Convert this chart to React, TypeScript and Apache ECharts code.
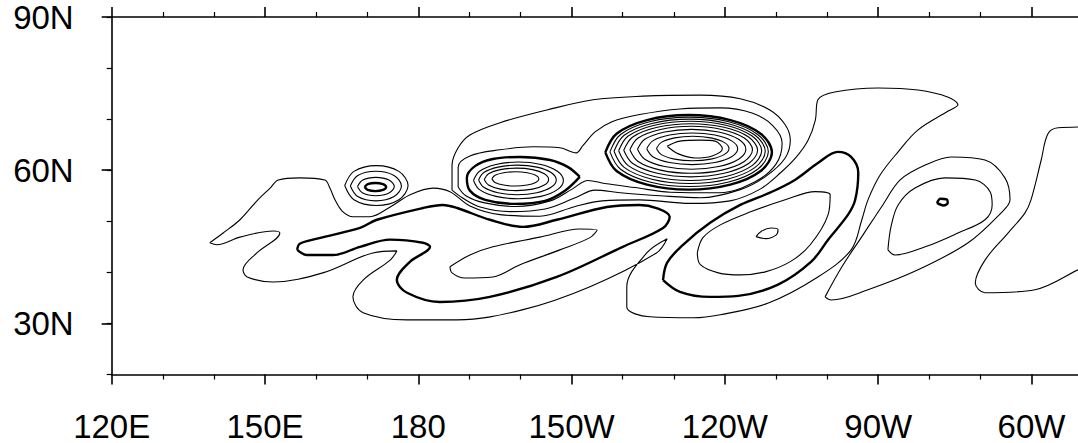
import React, { useEffect, useRef } from "react";
import * as echarts from "echarts";

type Pt = [number, number];

// Axis ranges / ticks (degrees; longitudes in 0..360 east)
const lonRange: Pt = [120, 330];
const latRange: Pt = [20, 90];
const lonTicks = [120, 150, 180, 210, 240, 270, 300];
const latTicks = [30, 60, 90];

// ---------- thin contours ----------
const outerContour: Pt[] = [
  [139.2, 45.8], [141.8, 47.7], [145.1, 50.3], [148.6, 54.2], [151.0, 56.5], [152.6, 58.1],
  [156.8, 58.5], [161.7, 58.1], [162.7, 56.5], [163.7, 54.2], [165.1, 52.0], [167.2, 50.9],
  [170.5, 50.9], [174.5, 52.8], [178.4, 55.2], [182.9, 56.5], [186.2, 55.8], [190.1, 53.0],
  [196.0, 51.3], [203.8, 51.0], [210.7, 52.9], [216.0, 54.0], [223.3, 54.2], [233.2, 53.5],
  [241.0, 54.0], [246.9, 56.3], [251.0, 59.6], [254.0, 62.6], [256.3, 65.9], [257.7, 69.8],
  [258.2, 73.8], [261.5, 75.3], [270.0, 76.1], [277.8, 75.7], [283.7, 74.3], [285.6, 72.8],
  [283.7, 71.6], [277.8, 67.9], [273.9, 63.6], [270.4, 59.1], [268.0, 54.2], [266.8, 50.3],
  [264.7, 44.4], [258.2, 39.1], [248.5, 34.0], [239.1, 31.7], [233.8, 31.1], [225.3, 31.3],
  [220.8, 33.2], [220.8, 37.2], [224.7, 43.8], [228.7, 46.6], [226.6, 43.8], [213.6, 37.2],
  [200.5, 32.7], [187.6, 30.7], [177.8, 30.7], [169.2, 32.1], [167.2, 35.2], [169.2, 38.5],
  [174.5, 42.4], [175.8, 44.2], [171.1, 43.8], [161.3, 39.9], [151.6, 38.1], [146.5, 39.1],
  [145.7, 40.5], [148.4, 43.8], [152.9, 47.7], [151.6, 48.1], [145.1, 46.9], [140.6, 45.4],
  [139.2, 45.8],
];

const envelopeOuter: Pt[] = [
  [186.6, 56.1], [186.6, 61.0], [187.8, 64.4], [190.1, 66.9], [196.0, 69.3], [205.2, 71.8],
  [214.2, 73.8], [224.0, 74.5], [235.2, 74.7], [243.0, 74.0], [248.8, 71.8], [251.8, 68.9],
  [252.8, 65.9], [251.8, 62.4], [248.0, 58.8], [243.0, 56.2], [235.2, 54.6], [227.3, 55.0],
  [219.5, 55.6], [214.6, 56.1], [210.7, 54.6], [204.8, 52.4], [198.0, 51.9], [192.1, 52.8],
  [188.6, 54.6], [186.6, 56.1],
];

const envelopeInner: Pt[] = [
  [187.8, 56.7], [187.8, 60.6], [190.1, 62.8], [196.0, 64.0], [202.5, 64.6], [207.7, 64.4],
  [210.9, 63.4], [212.2, 64.8], [214.6, 67.5], [217.9, 69.5], [223.3, 70.9], [231.2, 72.0],
  [239.1, 72.2], [245.3, 71.2], [249.4, 68.7], [251.2, 65.3], [250.0, 61.2], [246.0, 57.8],
  [239.0, 55.6], [229.3, 55.7], [222.4, 56.6], [216.5, 57.4], [213.2, 58.0], [210.1, 56.3],
  [205.8, 54.0], [199.0, 52.9], [193.0, 53.6], [189.3, 55.0], [187.8, 56.7],
];

const bigRing1: Pt[] = [[217.5, 63.6], [219.58, 67.0], [225.25, 69.49], [233.0, 70.4], [240.75, 69.49], [246.42, 67.0], [248.5, 63.6], [246.42, 60.2], [240.75, 57.71], [233.0, 56.8], [225.25, 57.71], [219.58, 60.2], [217.5, 63.6]];
const bigRing2: Pt[] = [[218.3, 63.7], [220.28, 66.85], [225.7, 69.16], [233.1, 70.0], [240.5, 69.16], [245.92, 66.85], [247.9, 63.7], [245.92, 60.55], [240.5, 58.24], [233.1, 57.4], [225.7, 58.24], [220.28, 60.55], [218.3, 63.7]];
const bigRing3: Pt[] = [[219.2, 63.8], [221.08, 66.7], [226.2, 68.82], [233.2, 69.6], [240.2, 68.82], [245.32, 66.7], [247.2, 63.8], [245.32, 60.9], [240.2, 58.78], [233.2, 58.0], [226.2, 58.78], [221.08, 60.9], [219.2, 63.8]];
const bigRing4: Pt[] = [[220.2, 63.9], [221.96, 66.5], [226.75, 68.4], [233.3, 69.1], [239.85, 68.4], [244.64, 66.5], [246.4, 63.9], [244.64, 61.3], [239.85, 59.4], [233.3, 58.7], [226.75, 59.4], [221.96, 61.3], [220.2, 63.9]];
const bigRing5: Pt[] = [[221.4, 64.0], [223.01, 66.3], [227.4, 67.98], [233.4, 68.6], [239.4, 67.98], [243.79, 66.3], [245.4, 64.0], [243.79, 61.7], [239.4, 60.02], [233.4, 59.4], [227.4, 60.02], [223.01, 61.7], [221.4, 64.0]];
const bigRing6: Pt[] = [[222.9, 64.1], [224.32, 66.05], [228.2, 67.48], [233.5, 68.0], [238.8, 67.48], [242.68, 66.05], [244.1, 64.1], [242.68, 62.15], [238.8, 60.72], [233.5, 60.2], [228.2, 60.72], [224.32, 62.15], [222.9, 64.1]];
const bigRing7: Pt[] = [[224.7, 64.2], [225.89, 65.75], [229.15, 66.88], [233.6, 67.3], [238.05, 66.88], [241.31, 65.75], [242.5, 64.2], [241.31, 62.65], [238.05, 61.52], [233.6, 61.1], [229.15, 61.52], [225.89, 62.65], [224.7, 64.2]];
const bigRing8: Pt[] = [[226.6, 64.25], [227.55, 65.45], [230.15, 66.33], [233.7, 66.65], [237.25, 66.33], [239.85, 65.45], [240.8, 64.25], [239.85, 63.05], [237.25, 62.17], [233.7, 61.85], [230.15, 62.17], [227.55, 63.05], [226.6, 64.25]];
const bigCore: Pt[] = [[228.7, 64.7], [231.2, 65.7], [235.2, 65.9], [238.1, 65.7], [239.5, 64.2], [237.5, 62.8], [234.2, 62.4], [230.9, 63.2], [228.7, 64.7]];

const midRing1: Pt[] = [[190.8, 58.0], [191.98, 59.8], [195.2, 61.12], [199.6, 61.6], [204.0, 61.12], [207.22, 59.8], [208.4, 58.0], [207.22, 56.2], [204.0, 54.88], [199.6, 54.4], [195.2, 54.88], [191.98, 56.2], [190.8, 58.0]];
const midRing2: Pt[] = [[191.8, 58.1], [192.82, 59.55], [195.6, 60.61], [199.4, 61.0], [203.2, 60.61], [205.98, 59.55], [207.0, 58.1], [205.98, 56.65], [203.2, 55.59], [199.4, 55.2], [195.6, 55.59], [192.82, 56.65], [191.8, 58.1]];
const midRing3: Pt[] = [[192.9, 58.2], [193.74, 59.3], [196.05, 60.11], [199.2, 60.4], [202.35, 60.11], [204.66, 59.3], [205.5, 58.2], [204.66, 57.1], [202.35, 56.29], [199.2, 56.0], [196.05, 56.29], [193.74, 57.1], [192.9, 58.2]];
const midCore: Pt[] = [[194.4, 58.3], [195.02, 59.0], [196.7, 59.51], [199.0, 59.7], [201.3, 59.51], [202.98, 59.0], [203.6, 58.3], [202.98, 57.6], [201.3, 57.09], [199.0, 56.9], [196.7, 57.09], [195.02, 57.6], [194.4, 58.3]];

const smallRing1: Pt[] = [[168.1, 56.8], [169.14, 58.08], [171.7, 58.6], [174.26, 58.08], [175.3, 56.8], [174.26, 55.52], [171.7, 55.0], [169.14, 55.52], [168.1, 56.8]];
const smallRing2: Pt[] = [[166.7, 56.9], [168.15, 58.96], [171.7, 59.8], [175.25, 58.96], [176.7, 56.9], [175.25, 54.84], [171.7, 54.0], [168.15, 54.84], [166.7, 56.9]];
const smallRing3: Pt[] = [[165.6, 57.0], [167.4, 59.77], [171.8, 60.9], [176.2, 59.77], [178.0, 57.0], [176.2, 54.23], [171.8, 53.1], [167.4, 54.23], [165.6, 57.0]];

const sInner: Pt[] = [[186.2, 41.1], [190.1, 43.4], [194.6, 45.0], [203.8, 46.9], [211.6, 48.5], [215.0, 48.3], [213.6, 46.8], [207.7, 44.4], [199.9, 41.5], [194.6, 39.1], [189.1, 38.9], [186.6, 39.9], [186.2, 41.1]];

const loopInner: Pt[] = [[234.6, 43.8], [235.7, 46.8], [239.1, 49.3], [244.9, 51.8], [251.8, 54.2], [257.7, 55.8], [260.6, 55.2], [260.2, 51.3], [256.7, 45.4], [252.8, 42.1], [247.9, 40.1], [243.0, 39.5], [238.7, 39.9], [235.2, 41.5], [234.6, 43.8]];
const loopCore: Pt[] = [[246.1, 47.0], [247.2, 48.1], [249.0, 48.7], [250.4, 48.4], [250.0, 47.3], [248.0, 46.6], [246.1, 47.0]];

const eastTeardrop: Pt[] = [[259.6, 35.2], [262.9, 41.1], [267.0, 47.3], [270.9, 53.2], [274.3, 58.1], [279.2, 61.0], [284.3, 62.6], [290.9, 62.0], [294.8, 58.5], [295.8, 54.2], [294.0, 51.6], [287.6, 45.8], [277.8, 40.5], [268.0, 36.6], [260.8, 34.6], [259.6, 35.2]];
const eastInner: Pt[] = [[271.9, 44.4], [272.5, 48.9], [273.9, 53.2], [277.2, 56.5], [283.1, 58.5], [289.0, 58.1], [291.9, 55.8], [292.3, 53.2], [290.9, 50.3], [285.6, 47.7], [279.2, 45.0], [273.3, 43.4], [271.9, 44.4]];

const farEast: Pt[] = [[312.0, 68.5], [305.2, 68.3], [303.2, 67.1], [301.9, 62.0], [299.9, 54.2], [298.7, 51.6], [295.4, 47.7], [290.9, 42.4], [289.0, 37.9], [290.9, 36.0], [300.7, 36.6], [309.1, 40.5], [312.3, 42.1]];

// ---------- bold contours ----------
const boldS: Pt[] = [
  [156.3, 44.4], [156.8, 45.6], [160.2, 46.6], [168.6, 48.7], [171.9, 50.3], [180.9, 52.6],
  [184.8, 53.2], [187.6, 52.6], [194.0, 50.3], [200.5, 48.9], [207.1, 50.3], [216.9, 52.8],
  [223.3, 53.2], [226.6, 52.6], [229.2, 50.9], [227.9, 48.7], [220.0, 45.0], [207.1, 39.1],
  [194.0, 35.2], [184.2, 34.2], [177.8, 36.0], [175.8, 38.5], [178.4, 42.1], [182.3, 45.0],
  [180.9, 45.8], [174.5, 46.4], [168.6, 45.0], [163.3, 43.4], [158.2, 43.4], [156.3, 44.4],
];
const boldLoop: Pt[] = [
  [227.9, 38.5], [228.7, 41.9], [231.8, 45.4], [237.1, 49.7], [243.0, 53.2], [248.8, 55.6],
  [253.7, 58.1], [258.2, 61.4], [262.1, 63.6], [264.7, 62.6], [266.1, 59.5], [265.5, 54.2],
  [264.1, 51.3], [260.2, 46.4], [256.9, 42.1], [250.4, 37.6], [242.6, 35.4], [237.1, 35.2],
  [231.2, 36.2], [227.9, 38.5],
];
const bigBold: Pt[] = [[216.6, 63.5], [218.8, 67.15], [224.75, 69.82], [232.9, 70.8], [241.05, 69.82], [247.0, 67.15], [249.2, 63.5], [247.0, 59.85], [241.05, 57.18], [232.9, 56.2], [224.75, 57.18], [218.8, 59.85], [216.6, 63.5]];
const midBold: Pt[] = [[211.6, 58.7], [209.3, 60.6], [205.8, 62.0], [199.9, 62.6], [194.6, 62.2], [191.1, 60.8], [189.5, 58.5], [190.1, 56.0], [193.1, 54.2], [198.9, 53.4], [204.8, 54.0], [208.7, 56.0], [211.6, 58.7]];
const smallBold: Pt[] = [[169.5, 56.7], [170.11, 57.27], [171.6, 57.5], [173.09, 57.27], [173.7, 56.7], [173.09, 56.13], [171.6, 55.9], [170.11, 56.13], [169.5, 56.7]];
const eastCore: Pt[] = [[281.5, 53.6], [282.2, 54.4], [283.4, 54.3], [283.6, 53.6], [282.8, 53.1], [281.5, 53.6]];

const thinContours: Pt[][] = [
  outerContour, envelopeOuter, envelopeInner,
  bigRing1, bigRing2, bigRing3, bigRing4, bigRing5, bigRing6, bigRing7, bigRing8, bigCore,
  midRing1, midRing2, midRing3, midCore,
  smallRing1, smallRing2, smallRing3,
  sInner, loopInner, loopCore, eastTeardrop, eastInner, farEast,
];
const boldContours: Pt[][] = [boldS, boldLoop, bigBold, midBold, smallBold, eastCore];

const FONT = "'Liberation Sans', Arial, Helvetica, sans-serif";
const AX = "#000";

function fmtLon(v: number): string {
  if (v > 300) return "";
  if (v < 180) return `${v}E`;
  if (v === 180) return "180";
  return `${360 - v}W`;
}

export default function App() {
  const ref = useRef<HTMLDivElement>(null);
  useEffect(() => {
    if (!ref.current) return;
    const chart = echarts.init(ref.current, undefined, { renderer: "svg" });
    const lineSeries = (d: Pt[], w: number) => ({
      type: "line",
      data: d,
      symbol: "none",
      smooth: 0.35,
      silent: true,
      animation: false,
      emphasis: { disabled: true },
      lineStyle: { color: "#000", width: w },
      xAxisIndex: 0,
      yAxisIndex: 0,
    });
    const xCommon = {
      type: "value",
      min: lonRange[0],
      max: lonRange[1],
      interval: 30,
      axisLine: { show: true, onZero: false, lineStyle: { color: AX, width: 1.6 } },
      axisTick: { show: true, inside: false, length: 10, lineStyle: { color: AX, width: 1.6 } },
      minorTick: { show: true, splitNumber: 3, length: 5, lineStyle: { color: AX, width: 1.2 } },
      splitLine: { show: false },
      minorSplitLine: { show: false },
    };
    chart.setOption({
      animation: false,
      backgroundColor: "#fff",
      grid: { left: 111.7, top: 17, width: 1073.1, height: 357.5, containLabel: false },
      xAxis: [
        {
          ...xCommon,
          position: "bottom",
          axisLabel: {
            show: true,
            margin: 35,
            fontSize: 33,
            fontFamily: FONT,
            color: "#000",
            customValues: lonTicks,
            formatter: (v: number) => fmtLon(v),
          },
        },
        { ...xCommon, position: "top", axisLabel: { show: false } },
      ],
      yAxis: [
        {
          type: "value",
          position: "left",
          min: latRange[0],
          max: latRange[1],
          interval: 10,
          axisLine: { show: true, onZero: false, lineStyle: { color: AX, width: 1.6 } },
          axisTick: { show: true, inside: false, length: 5, lineStyle: { color: AX, width: 1.2 } },
          axisLabel: { show: false },
          splitLine: { show: false },
        },
        {
          type: "value",
          position: "left",
          min: latRange[0],
          max: latRange[1],
          interval: 10,
          axisLine: { show: false },
          axisTick: { show: true, inside: false, length: 10, customValues: latTicks, lineStyle: { color: AX, width: 1.6 } },
          axisLabel: {
            show: true,
            margin: 38,
            fontSize: 33,
            fontFamily: FONT,
            color: "#000",
            customValues: latTicks,
            formatter: (v: number) => (v % 30 === 0 ? `${v}N` : ""),
          },
          splitLine: { show: false },
        },
      ],
      series: [
        ...thinContours.map((d) => lineSeries(d, 1.1)),
        ...boldContours.map((d) => lineSeries(d, 2.4)),
      ],
    });
    return () => chart.dispose();
  }, []);
  return (
    <div style={{ position: "absolute", left: 0, top: 0, width: 1078, height: 443, overflow: "hidden", background: "#fff" }}>
      <div ref={ref} style={{ width: 1300, height: 443 }} />
    </div>
  );
}
